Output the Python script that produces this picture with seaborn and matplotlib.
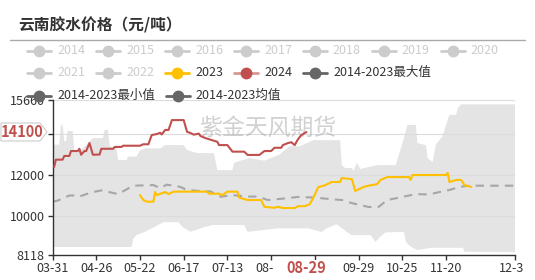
import matplotlib
matplotlib.use("Agg")
import numpy as np
import pandas as pd
import matplotlib.pyplot as plt
import seaborn as sns
from matplotlib.lines import Line2D
from matplotlib.patches import Polygon, Rectangle
from matplotlib.transforms import blended_transform_factory, Bbox, TransformedBbox

# ---------------- data ----------------
title = "云南胶水价格（元/吨）"
watermark = "紫金天风期货"
tick_dates = ["03-31", "04-26", "05-22", "06-17", "07-13", "08-08", "09-03",
              "09-29", "10-25", "11-20", "12-31"]
y_ticks = [8118, 10000, 12000, 14000, 15660]

d2024 = ["04-01", "04-02", "04-06", "04-07", "04-10", "04-11", "04-15", "04-16", "04-17", "04-19",
         "04-20", "04-22", "04-24", "04-28", "04-29", "05-06", "05-07", "05-11", "05-12", "05-22",
         "05-24", "05-27", "05-29", "06-01", "06-03", "06-04", "06-06", "06-08", "06-10", "06-17",
         "06-19", "06-21", "06-23", "06-26", "06-27", "06-30", "07-07", "07-08", "07-13", "07-16",
         "07-23", "07-25", "08-01", "08-04", "08-08", "08-10", "08-14", "08-15", "08-18", "08-20",
         "08-22", "08-24", "08-26", "08-29"]
v2024 = [12400, 12750, 12750, 12930, 12930, 13170, 13170, 13280, 12990, 13170,
         13170, 13560, 12990, 13000, 13280, 13280, 13370, 13370, 13430, 13430,
         13500, 13500, 13950, 14000, 14060, 13980, 14200, 14200, 14680, 14680,
         14110, 14050, 13970, 14020, 13900, 13800, 13620, 13460, 13460, 13140,
         13140, 12980, 12980, 13170, 13170, 13330, 13330, 13460, 13560, 13600,
         13460, 13750, 13950, 14100]

d2023 = ["05-22", "05-24", "05-26", "05-30", "05-31", "06-01", "06-06", "06-08", "06-11", "07-01",
         "07-02", "07-08", "07-10", "07-13", "07-19", "07-20", "07-25", "08-02", "08-04", "08-10",
         "08-12", "08-15", "08-22", "08-24", "08-28", "08-31", "09-02", "09-05", "09-09", "09-13",
         "09-18", "09-19", "09-25", "09-27", "10-02", "10-06", "10-10", "10-12", "10-16", "10-29",
         "10-30", "10-31", "11-20", "11-21", "11-22", "11-26", "11-29", "12-01", "12-05"]
v2023 = [11020, 10780, 10700, 10700, 11170, 11020, 11170, 11070, 11190, 11190,
         11090, 11090, 11020, 11190, 11190, 10900, 10780, 10780, 10450, 10400,
         10450, 10390, 10390, 10480, 10480, 10580, 10880, 11410, 11500, 11660,
         11660, 11850, 11800, 11220, 11420, 11500, 11550, 11760, 11900, 11900,
         11760, 12000, 12000, 12100, 11660, 11760, 11760, 11500, 11420]

d_mean = ["03-31", "04-03", "04-10", "04-13", "04-16", "04-23", "04-29", "05-02", "05-09", "05-18",
          "05-30", "06-03", "06-07", "06-15", "06-19", "06-27", "07-03", "07-09", "07-16", "07-25",
          "07-31", "08-06", "08-15", "08-24", "09-03", "09-09", "09-19", "09-25", "10-05", "10-11",
          "10-16", "10-25", "11-02", "11-10", "11-16", "11-22", "11-28", "12-04", "12-31"]
v_mean = [10700, 10750, 11000, 11000, 10950, 11150, 11250, 11200, 11070, 11480,
          11510, 11370, 11530, 11420, 11270, 11220, 11200, 10940, 11020, 10950,
          10950, 10780, 10850, 10930, 10900, 10850, 10780, 10630, 10440, 10450,
          10780, 10930, 11070, 11050, 11170, 11270, 11420, 11480, 11480]

d_max = ["03-31", "04-04", "04-05", "04-06", "04-07", "04-08", "04-09", "04-12", "04-13", "04-16",
         "04-18", "04-21", "04-24", "04-30", "05-01", "05-03", "05-04", "05-08", "05-09", "05-14",
         "05-15", "05-20", "05-22", "05-25", "06-03", "06-06", "06-17", "06-19", "06-25", "07-05",
         "07-07", "07-16", "07-17", "07-26", "08-04", "08-13", "08-19", "08-25", "09-02", "09-18",
         "09-19", "09-21", "09-25", "09-26", "09-28", "09-30", "10-10", "10-21", "10-23", "10-26",
         "10-28", "11-02", "11-03", "11-08", "11-09", "11-12", "11-14", "11-18", "11-20", "11-22",
         "11-26", "11-27", "11-29", "12-31"]
v_max = [13480, 13480, 14450, 14450, 13650, 13650, 14150, 14150, 13200, 13170,
         13300, 13550, 13800, 13800, 14200, 14200, 13400, 13300, 12730, 12730,
         12900, 12900, 13200, 13300, 13300, 13460, 13460, 13220, 13070, 13070,
         12240, 12240, 12600, 12830, 12700, 13000, 13400, 13400, 13700, 13700,
         12490, 12340, 12340, 12200, 12600, 12300, 12480, 12480, 13000, 13800,
         14440, 14440, 13560, 13460, 12830, 12630, 13500, 13900, 14440, 14930,
         14930, 15270, 15450, 15450]

d_min = ["03-31", "05-17", "05-18", "05-20", "05-25", "05-31", "06-05", "06-14", "06-16", "06-21",
         "06-30", "07-04", "07-23", "07-25", "08-12", "08-30", "09-07", "09-10", "09-16", "09-22",
         "09-25", "10-06", "10-09", "10-12", "10-15", "10-26", "10-27", "10-30", "11-03", "11-11",
         "11-30", "12-01", "12-31"]
v_min = [8490, 8490, 8900, 9070, 9230, 9480, 9700, 9700, 9480, 9230,
         9480, 9560, 9560, 9230, 9400, 9400, 9220, 9400, 9600, 9220,
         9070, 9070, 8740, 9000, 9200, 9230, 8740, 8500, 8340, 8450,
         8450, 8260, 8240]

legend_labels = ["2014", "2015", "2016", "2017", "2018", "2019", "2020", "2021", "2022",
                 "2023", "2024", "2014-2023最大值", "2014-2023最小值", "2014-2023均值"]

# ---------------- style ----------------
sns.set_theme(style="white")
plt.rcParams['font.family'] = ['Noto Sans CJK SC', 'DejaVu Sans']
plt.rcParams['axes.unicode_minus'] = False

C23, C24 = "#FFC000", "#C0504D"
CMEAN, CBAND, CDARK, CDIS = "#A6A6A6", "#E4E4E4", "#666666", "#CCCCCC"

W, H = 535, 280
L, R, T, B = 52.5, 515, 100, 254.6
fig = plt.figure(figsize=(W / 100, H / 100), dpi=100)
fig.patch.set_facecolor("white")
ax = fig.add_axes([L / W, 1 - B / H, (R - L) / W, (B - T) / H])

base = pd.Timestamp("2023-03-31")


def days(md_list):
    return [(pd.Timestamp("2023-" + m) - base).days for m in md_list]


x_end = days(["12-31"])[0]
cur_val = v2024[-1]
cur_date = d2024[-1]

# band (max/min)
bx = np.r_[days(d_max), days(d_min)[::-1]]
by = np.r_[v_max, v_min[::-1]]
ax.fill(bx, by, color=CBAND, lw=0, zorder=0.2)

df_mean = pd.DataFrame({"x": days(d_mean), "y": v_mean})
df23 = pd.DataFrame({"x": days(d2023), "y": v2023})
df24 = pd.DataFrame({"x": days(d2024), "y": v2024})

sns.lineplot(data=df_mean, x="x", y="y", ax=ax, color=CMEAN, lw=1.5, estimator=None, sort=False, zorder=2)
ax.lines[-1].set_dashes((4, 3))
sns.lineplot(data=df23, x="x", y="y", ax=ax, color=C23, lw=1.5, estimator=None, sort=False, zorder=3)
sns.lineplot(data=df24, x="x", y="y", ax=ax, color=C24, lw=1.5, estimator=None, sort=False, zorder=4)

cur_day = days([cur_date])[0]
ax.set_xlim(0, x_end)
ax.set_ylim(y_ticks[0], y_ticks[-1])
ax.set_yticks(y_ticks)
# labels hidden behind the current-value markers are left blank
ax.set_yticklabels(["" if abs(v - cur_val) < 300 else str(v) for v in y_ticks])
tick_days = days(tick_dates)
ax.set_xticks(tick_days)
ax.set_xticklabels(["" if abs(d - cur_day) < 8 else lab for d, lab in zip(tick_days, tick_dates)])
ax.set_xlabel("")
ax.set_ylabel("")
ax.set_axisbelow(True)
ax.yaxis.grid(True, color="#DCDCDC", lw=0.8)
ax.xaxis.grid(False)
for s in ["top", "right"]:
    ax.spines[s].set_visible(False)
for s in ["left", "bottom"]:
    ax.spines[s].set_color("#333333")
    ax.spines[s].set_linewidth(1)
ax.tick_params(axis="both", which="major", bottom=True, left=True, direction="out",
               length=3.6, width=1, color="#333333", labelsize=9, labelcolor="#333333")
ax.tick_params(axis="x", pad=1.5)
ax.tick_params(axis="y", pad=2.2)

clip = TransformedBbox(Bbox([[0, 0], [523 / W, 1]]), fig.transFigure)
for lab in ax.get_xticklabels():
    lab.set_clip_box(clip)
    lab.set_clip_on(True)

# watermark
ax.text(0.466, 0.82, watermark, transform=ax.transAxes, fontsize=16.5, color="#999999",
        alpha=0.45, ha="center", va="center", zorder=2.5)

# title and rule
fig.text(18 / W, 1 - 25 / H, title, fontsize=11.3, fontweight="bold", color="#333333",
         ha="left", va="center")
fig.add_artist(Line2D([10 / W, 525 / W], [1 - 40 / H] * 2, color="#AAAAAA", lw=1,
                      transform=fig.transFigure))

# legend (flow layout)
renderer = fig.canvas.get_renderer()
rows_y = [50.7, 72.5, 95.5]
styles = []
for lab in legend_labels:
    if lab == "2023":
        styles.append((C23, C23, "#333333"))
    elif lab == "2024":
        styles.append((C24, "#D99694", "#333333"))
    elif lab.startswith("2014-2023"):
        styles.append((CDARK, CDARK, "#333333"))
    else:
        styles.append((CDIS, CDIS, CDIS))
xcur, row = 27, 0
for lab, (mc, lc, tc) in zip(legend_labels, styles):
    t = fig.text(0, 0, lab, fontsize=9, color=tc, ha="left", va="center")
    w = t.get_window_extent(renderer).width
    if xcur + 30 + w > 530:
        row += 1
        xcur = 27
    yy = 1 - rows_y[row] / H
    fig.add_artist(Line2D([xcur / W, (xcur + 24) / W], [yy, yy], color=lc, lw=2,
                          transform=fig.transFigure))
    fig.add_artist(Line2D([(xcur + 12) / W], [yy], marker="o", ms=7.5, color=mc, mec=mc,
                          lw=0, transform=fig.transFigure))
    t.set_position(((xcur + 30) / W, yy))
    xcur = xcur + 30 + w + 11

# current-value markers (y label box + x label box)
px_per_unit = (B - T) / (y_ticks[-1] - y_ticks[0])
hh = 9 / px_per_unit
trY = blended_transform_factory(fig.transFigure, ax.transData)
fig.add_artist(Polygon([[1 / W, cur_val - hh], [40 / W, cur_val - hh], [47 / W, cur_val],
                        [40 / W, cur_val + hh], [1 / W, cur_val + hh]], closed=True,
                       transform=trY, fc="white", ec="#CCCCCC", lw=0.8, zorder=5))
fig.text(22 / W, cur_val, str(cur_val), transform=trY, fontsize=10.5, fontweight="bold",
         color=C24, ha="center", va="center", zorder=6)

half = 33 / ((R - L) / x_end)
trX = blended_transform_factory(ax.transData, fig.transFigure)
fig.add_artist(Rectangle((cur_day - half, 0), 2 * half, 1 - 259.5 / H, transform=trX,
                         fc="white", ec="none", zorder=5))
fig.text(cur_day, 1 - 268 / H, cur_date, transform=trX, fontsize=10.5, fontweight="bold",
         color=C24, ha="center", va="center", zorder=6)

fig.savefig("out.png", dpi=100, facecolor="white")
